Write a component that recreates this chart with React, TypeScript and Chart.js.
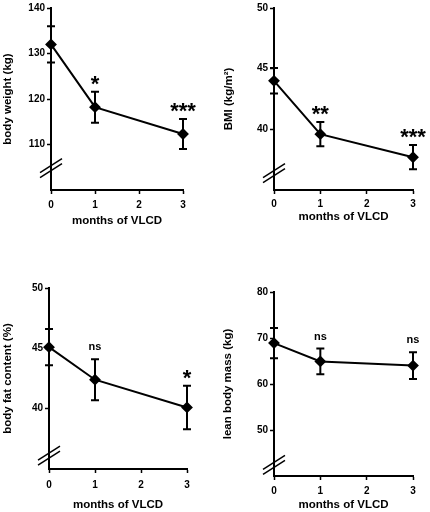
import React, { useEffect, useRef } from "react";
import { Chart, registerables } from "chart.js";
Chart.register(...registerables);

// ---- data ----
const months = [0, 1, 3];
const xTicks = [0, 1, 2, 3];

const weightMean = [132, 118.2, 112.3];
const weightErr = [4, 3.4, 3.3];
const weightSig = ["", "*", "***"];
const weightTicks = [110, 120, 130, 140];

const bmiMean = [44, 39.6, 37.7];
const bmiErr = [1.05, 1.0, 1.0];
const bmiSig = ["", "**", "***"];
const bmiTicks = [40, 45, 50];

const fatMean = [45.1, 42.4, 40.1];
const fatErr = [1.5, 1.7, 1.8];
const fatSig = ["", "ns", "*"];
const fatTicks = [40, 45, 50];

const leanMean = [68.9, 64.9, 64.0];
const leanErr = [3.3, 2.8, 2.9];
const leanSig = ["", "ns", "ns"];
const leanTicks = [50, 60, 70, 80];

const FONT = "'Liberation Sans', Arial, Helvetica, sans-serif";

type PanelCfg = {
  left: number;
  top: number;
  yTitle: string;
  mean: number[];
  err: number[];
  sig: string[];
  yTicks: number[];
  yMin: number;
  yMax: number;
  yBreak: number;
  yW: number;
  padRight: number;
  padTop: number;
  xH: number;
  yTitlePad: number;
  xTitlePad: number;
  xTickPad: number;
};

const panels: PanelCfg[] = [
  { left: 0, top: 0, yTitle: "body weight (kg)", mean: weightMean, err: weightErr, sig: weightSig, yTicks: weightTicks, yMin: 100, yMax: 140, yBreak: 104.8, yW: 51, padRight: 32, padTop: 7, xH: 66, yTitlePad: 1.2, xTitlePad: 28.2, xTickPad: 5 },
  { left: 215, top: 0, yTitle: "BMI (kg/m\u00B2)", mean: bmiMean, err: bmiErr, sig: bmiSig, yTicks: bmiTicks, yMin: 35, yMax: 50, yBreak: 36.4, yW: 59, padRight: 17, padTop: 7, xH: 66, yTitlePad: 7.2, xTitlePad: 32.2, xTickPad: 4 },
  { left: 0, top: 256, yTitle: "body fat content (%)", mean: fatMean, err: fatErr, sig: fatSig, yTicks: fatTicks, yMin: 35, yMax: 50, yBreak: 36.1, yW: 49, padRight: 28, padTop: 32, xH: 43, yTitlePad: 1.2, xTitlePad: 0.2, xTickPad: 6 },
  { left: 215, top: 256, yTitle: "lean body mass (kg)", mean: leanMean, err: leanErr, sig: leanSig, yTicks: leanTicks, yMin: 40, yMax: 80, yBreak: 42.4, yW: 59, padRight: 17, padTop: 36, xH: 36, yTitlePad: 6.2, xTitlePad: 0, xTickPad: 5 },
];

function makeOverlay(cfg: PanelCfg) {
  return {
    id: "overlay",
    afterDatasetsDraw(chart: any) {
      const { ctx, scales } = chart;
      const xs = scales.x;
      const ys = scales.y;
      ctx.save();
      ctx.strokeStyle = "#000";
      ctx.fillStyle = "#000";
      ctx.lineWidth = 2;
      months.forEach((m, i) => {
        const px = xs.getPixelForValue(m);
        const top = ys.getPixelForValue(cfg.mean[i] + cfg.err[i]);
        const bot = ys.getPixelForValue(cfg.mean[i] - cfg.err[i]);
        ctx.beginPath();
        ctx.moveTo(px, top);
        ctx.lineTo(px, bot);
        ctx.moveTo(px - 4, top);
        ctx.lineTo(px + 4, top);
        ctx.moveTo(px - 4, bot);
        ctx.lineTo(px + 4, bot);
        ctx.stroke();
        const s = cfg.sig[i];
        if (s) {
          ctx.textAlign = "center";
          ctx.textBaseline = "alphabetic";
          if (s === "ns") {
            ctx.font = `bold 11px ${FONT}`;
            ctx.fillText(s, px, top - 9);
          } else {
            ctx.font = `bold 22px ${FONT}`;
            ctx.fillText(s, px, top - 1);
          }
        }
      });
      // axis break marks
      const ax = xs.getPixelForValue(0);
      const by = ys.getPixelForValue(cfg.yBreak);
      ctx.lineWidth = 1.5;
      [-2.5, 2.5].forEach((o) => {
        ctx.beginPath();
        ctx.moveTo(ax - 11, by + o + 7);
        ctx.lineTo(ax + 11, by + o - 7);
        ctx.stroke();
      });
      ctx.restore();
    },
  };
}

function Panel({ cfg }: { cfg: PanelCfg }) {
  const ref = useRef<HTMLCanvasElement>(null);
  useEffect(() => {
    const tickFont = { family: FONT, size: 10, weight: "bold" as const };
    const titleFont = { family: FONT, size: 11.5, weight: "bold" as const };
    const chart = new Chart(ref.current!, {
      type: "line",
      data: {
        datasets: [
          {
            data: months.map((m, i) => ({ x: m, y: cfg.mean[i] })),
            borderColor: "#000",
            backgroundColor: "#000",
            borderWidth: 2,
            pointStyle: "rectRot",
            pointRadius: 4.5,
            pointBackgroundColor: "#000",
            pointBorderColor: "#000",
            tension: 0,
            clip: false as any,
          },
        ],
      },
      options: {
        animation: false,
        responsive: false,
        layout: { padding: { left: 0, right: cfg.padRight, top: cfg.padTop, bottom: 0 } },
        plugins: { legend: { display: false }, tooltip: { enabled: false } },
        scales: {
          x: {
            type: "linear",
            min: 0,
            max: 3,
            afterBuildTicks: (s: any) => {
              s.ticks = xTicks.map((v) => ({ value: v }));
            },
            afterFit: (s: any) => {
              s.height = cfg.xH;
            },
            grid: { drawOnChartArea: false, tickLength: 4, tickColor: "#000", tickWidth: 1.5 },
            border: { color: "#000", width: 2 },
            ticks: { font: tickFont, color: "#000", padding: cfg.xTickPad, maxRotation: 0, callback: (v: any) => String(v) },
            title: { display: true, text: "months of VLCD", font: titleFont, color: "#000", padding: { top: 0, bottom: cfg.xTitlePad } },
          },
          y: {
            type: "linear",
            min: cfg.yMin,
            max: cfg.yMax,
            afterBuildTicks: (s: any) => {
              s.ticks = cfg.yTicks.map((v) => ({ value: v }));
            },
            afterFit: (s: any) => {
              s.width = cfg.yW;
            },
            grid: { drawOnChartArea: false, tickLength: 4, tickColor: "#000", tickWidth: 1.5 },
            border: { color: "#000", width: 2 },
            ticks: { font: tickFont, color: "#000", padding: 2, callback: (v: any) => String(v) },
            title: { display: true, text: cfg.yTitle, font: titleFont, color: "#000", padding: { top: cfg.yTitlePad, bottom: 0 } },
          },
        },
      } as any,
      plugins: [makeOverlay(cfg)],
    });
    return () => chart.destroy();
  }, []);
  return (
    <canvas
      ref={ref}
      width={215}
      height={256}
      style={{ position: "absolute", left: cfg.left, top: cfg.top, width: 215, height: 256 }}
    />
  );
}

export default function App() {
  return (
    <div style={{ position: "absolute", left: 0, top: 0, width: 430, height: 512, background: "#fff" }}>
      {panels.map((p, i) => (
        <Panel key={i} cfg={p} />
      ))}
    </div>
  );
}
